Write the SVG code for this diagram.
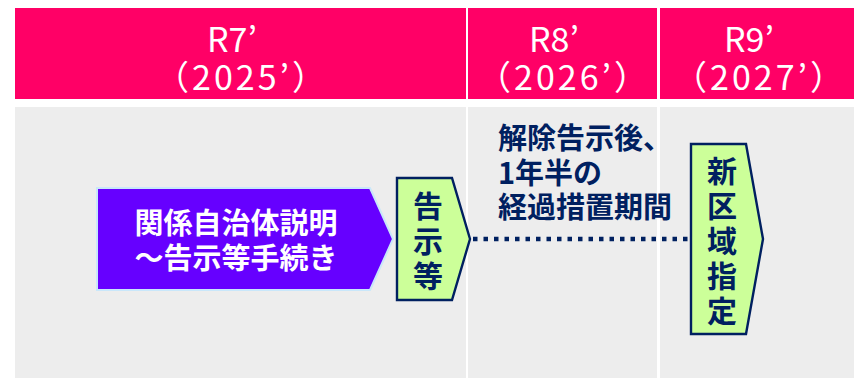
<svg xmlns="http://www.w3.org/2000/svg" width="854" height="378" viewBox="0 0 854 378">
<style>
.hdr{fill:#FF0066}
.body{fill:#EDEDED}
.ht{fill:#FFFFFF;font-family:"Noto Sans CJK JP","Noto Sans",sans-serif;font-size:34px;text-anchor:middle}
.bt{fill:#002060;font-family:"Noto Sans CJK JP","Noto Sans",sans-serif;font-size:29px;font-weight:bold}
.vt{fill:#002060;font-family:"Noto Sans CJK JP","Noto Sans",sans-serif;font-size:30px;font-weight:bold;text-anchor:middle}
.wt{fill:#FFFFFF;font-family:"Noto Sans CJK JP","Noto Sans",sans-serif;font-size:29px;font-weight:bold;text-anchor:middle}
.gbox{fill:#CCFF99;stroke:#002060;stroke-width:2.4;stroke-linejoin:miter}
</style>
<rect x="0" y="0" width="854" height="378" fill="#FFFFFF"/>
<g id="header">
<rect class="hdr" x="15" y="8" width="451" height="91"/>
<rect class="hdr" x="468" y="8" width="189" height="91"/>
<rect class="hdr" x="660" y="8" width="194" height="91"/>
<text class="ht" x="232" y="52">R7’<tspan x="242" y="90" letter-spacing="3">（2025’）</tspan></text>
<text class="ht" x="554" y="52">R8’<tspan x="564" y="90" letter-spacing="3">（2026’）</tspan></text>
<text class="ht" x="749" y="52">R9’<tspan x="760" y="90" letter-spacing="3">（2027’）</tspan></text>
</g>
<g id="body">
<rect class="body" x="15" y="107" width="451" height="271"/>
<rect class="body" x="468" y="107" width="189" height="271"/>
<rect class="body" x="660" y="107" width="194" height="271"/>
</g>
<g id="connectors">
<line x1="473" y1="239" x2="691" y2="239" stroke="#002060" stroke-width="4.5" stroke-dasharray="4.5 6"/>
</g>
<g id="node-kankei">
<polygon points="97,188 370,188 393,239 370,290 97,290" fill="#6600FF" stroke="#C9E7FA" stroke-width="2"/>
<text class="wt" x="236" y="234">関係自治体説明<tspan x="236" y="269">～告示等手続き</tspan></text>
</g>
<g id="node-kokuji">
<polygon class="gbox" points="397,178 452,178 470,239 452,300 397,300"/>
<text class="vt" x="428" y="217">告<tspan x="428" y="252">示</tspan><tspan x="428" y="287">等</tspan></text>
</g>
<g id="label-kaijo">
<text class="bt" x="498" y="149">解除告示後、<tspan x="498" y="184">1年半の</tspan><tspan x="498" y="218">経過措置期間</tspan></text>
</g>
<g id="node-shinkuiki">
<polygon class="gbox" points="691,144 746,144 763,239 746,334 691,334"/>
<text class="vt" x="722" y="182">新<tspan x="722" y="217">区</tspan><tspan x="722" y="252">域</tspan><tspan x="722" y="287">指</tspan><tspan x="722" y="322">定</tspan></text>
</g>
</svg>
